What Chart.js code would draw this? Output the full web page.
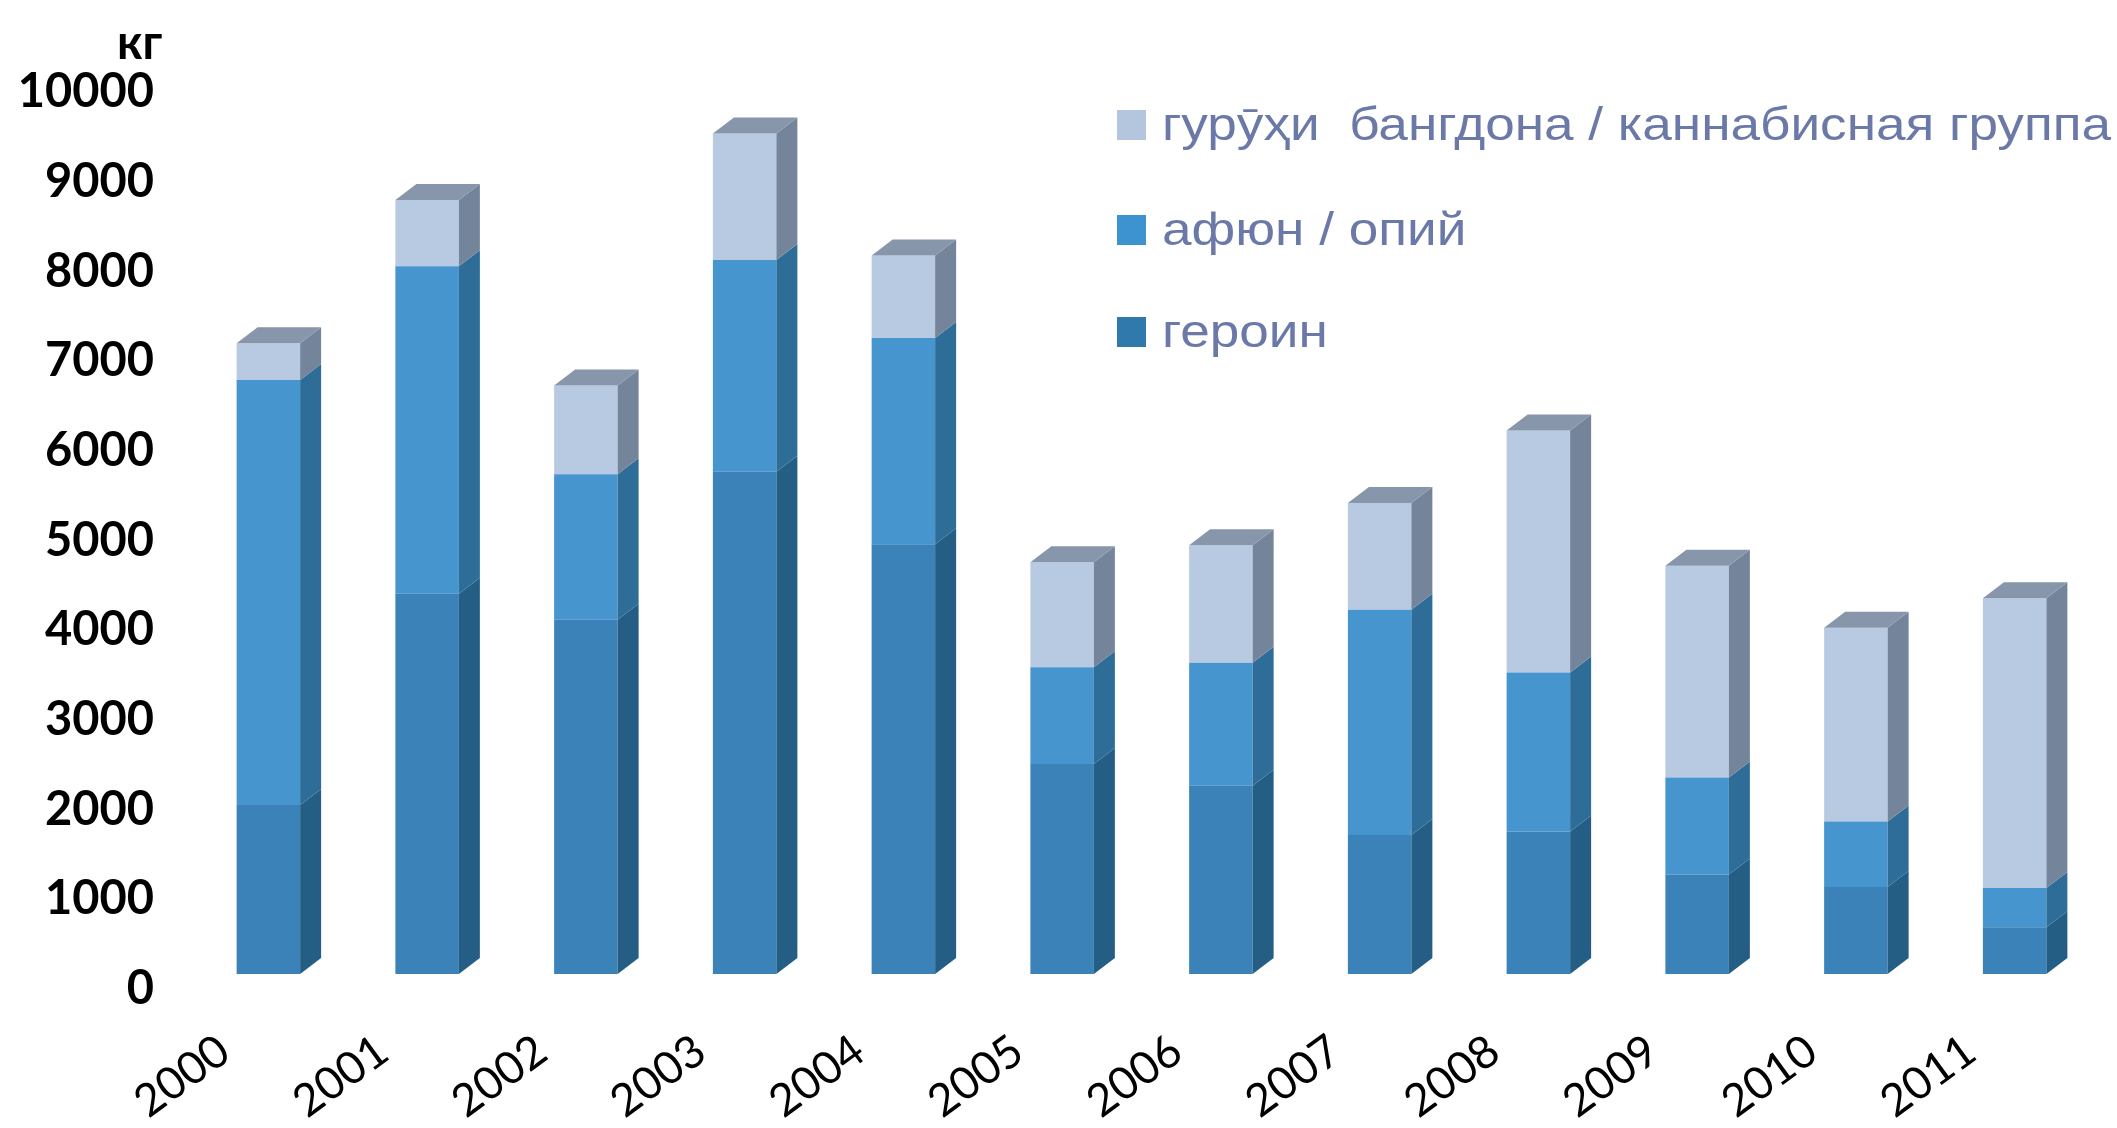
<!DOCTYPE html>
<html>
<head>
<meta charset="utf-8">
<script src="https://cdn.jsdelivr.net/npm/chart.js@4"></script>
<style>
  html, body { margin: 0; padding: 0; background: #ffffff; }
  #wrap { position: relative; width: 2117px; height: 1128px; overflow: hidden; background: #fff; }
  #chartBox { position: absolute; left: 0; top: 0; width: 2117px; height: 1128px; }
  .unit { position: absolute; left: 117px; top: 18px; font: bold 47px Lato, sans-serif; color: #000; line-height: 1; }
  .leg { position: absolute; left: 1117px; }
  .leg .sw { position: absolute; left: 0; width: 29px; height: 30px; }
  .leg .tx { position: absolute; left: 45px; white-space: pre; font: 47px "Liberation Sans", Arial, sans-serif; color: #6b79a8; line-height: 1; transform: scaleX(1.13); transform-origin: 0 0; }
</style>
</head>
<body>
<div id="wrap">
  <div id="chartBox"><canvas id="c"></canvas></div>
  <div class="unit" id="unit"></div>
  <div id="legend"></div>
</div>
<script>
// ---- data (kg) ----
const years = ['2000','2001','2002','2003','2004','2005','2006','2007','2008','2009','2010','2011'];
const heroin   = [1883, 4240, 3950, 5600, 4790, 2340, 2100, 1550, 1590, 1110, 970, 520];
const opium    = [4740, 3650, 1620, 2360, 2300, 1080, 1370, 2510, 1770, 1080, 730, 440];
const cannabis = [410,  740,  990, 1410,  920, 1170, 1310, 1190, 2700, 2360, 2160, 3230];
const seriesNames = ['героин', 'афюн / опий', 'гурӯҳи  бангдона / каннабисная группа'];
const unitLabel = 'кг';
const yTicks = [0,1000,2000,3000,4000,5000,6000,7000,8000,9000,10000];

// ---- styles ----
const frontColors = ['#3a82b7', '#4795cf', '#b8cae2'];
const sideColors  = ['#245e85', '#2d6d98', '#74849a'];
const topColor = '#8796aa';
const legendColors = ['#2f79ad', '#3d93cf', '#b4c6de'];
const DX = 21, DY = 16;

document.getElementById('unit').textContent = unitLabel;

// legend (top entry = last dataset)
const legendEl = document.getElementById('legend');
const baselines = [347, 245, 140];
seriesNames.forEach((name, i) => {
  const row = document.createElement('div');
  row.className = 'leg';
  row.style.top = (baselines[i] - 30) + 'px';
  const sw = document.createElement('div');
  sw.className = 'sw';
  sw.style.background = legendColors[i];
  sw.style.top = '0px';
  const tx = document.createElement('div');
  tx.className = 'tx';
  tx.textContent = name;
  tx.style.top = (30 - 40) + 'px';
  row.appendChild(sw); row.appendChild(tx);
  legendEl.appendChild(row);
});

const bar3d = {
  id: 'bar3d',
  afterDatasetsDraw(chart) {
    const ctx = chart.ctx;
    const n = chart.data.labels.length;
    const dsCount = chart.data.datasets.length;
    ctx.save();
    for (let d = 0; d < dsCount; d++) {
      const meta = chart.getDatasetMeta(d);
      meta.data.forEach((el, j) => {
        const v = chart.data.datasets[d].data[j];
        if (!v) return;
        const p = el.getProps(['x','y','base','width'], true);
        const right = p.x + p.width / 2;
        ctx.fillStyle = sideColors[d];
        ctx.beginPath();
        ctx.moveTo(right, p.y);
        ctx.lineTo(right + DX, p.y - DY);
        ctx.lineTo(right + DX, p.base - DY);
        ctx.lineTo(right, p.base);
        ctx.closePath();
        ctx.fill();
      });
    }
    for (let j = 0; j < n; j++) {
      let topD = -1;
      for (let d = dsCount - 1; d >= 0; d--) {
        if (chart.data.datasets[d].data[j]) { topD = d; break; }
      }
      if (topD < 0) continue;
      const el = chart.getDatasetMeta(topD).data[j];
      const p = el.getProps(['x','y','base','width'], true);
      const left = p.x - p.width / 2, right = p.x + p.width / 2;
      ctx.fillStyle = topColor;
      ctx.beginPath();
      ctx.moveTo(left, p.y);
      ctx.lineTo(left + DX, p.y - DY);
      ctx.lineTo(right + DX, p.y - DY);
      ctx.lineTo(right, p.y);
      ctx.closePath();
      ctx.fill();
    }
    ctx.restore();
  }
};

const ds = [heroin, opium, cannabis].map((arr, i) => ({
  label: seriesNames[i],
  data: arr,
  backgroundColor: frontColors[i],
  borderWidth: 0,
  barPercentage: 0.8,
  categoryPercentage: 0.5
}));

new Chart(document.getElementById('c'), {
  type: 'bar',
  data: { labels: years, datasets: ds },
  options: {
    responsive: true,
    maintainAspectRatio: false,
    animation: false,
    events: [],
    layout: { padding: { top: 77, right: 23, left: 0, bottom: 0 } },
    plugins: { legend: { display: false }, tooltip: { enabled: false }, title: { display: false } },
    scales: {
      x: {
        stacked: true,
        grid: { display: false },
        border: { display: false },
        ticks: {
          autoSkip: false,
          minRotation: 36, maxRotation: 36,
          color: '#000',
          font: { family: 'Lato', size: 45, weight: 'normal' },
          padding: 42,
          labelOffset: -44
        },
        afterFit(s) { s.height = 154; }
      },
      y: {
        stacked: true,
        min: 0, max: 10000,
        afterBuildTicks(s) { s.ticks = yTicks.map(v => ({ value: v })); },
        grid: { display: false },
        border: { display: false },
        ticks: {
          color: '#000',
          font: { family: 'Lato', size: 47, weight: 'bold' },
          padding: 27,
          labelOffset: 15,
          callback: (v) => String(v)
        },
        afterFit(s) { s.width = 189; }
      }
    }
  },
  plugins: [bar3d]
});
</script>
</body>
</html>
